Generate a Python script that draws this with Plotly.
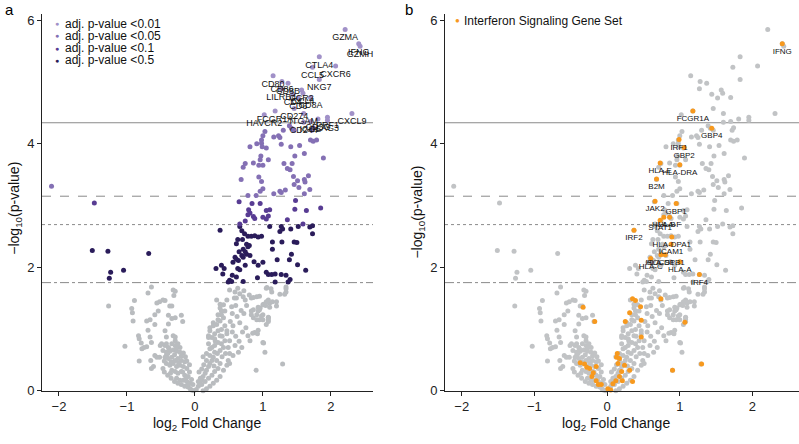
import plotly.graph_objects as go

W, H = 799, 444

# ---------------- data (log2 fold change, -log10 p-value) ----------------
ns_pts = [
    (-1.27, 1.37), (-1.03, 0.72), (-0.89, 1.46), (-0.93, 1.33), (-0.92, 1.26), (-0.91, 1.13),
    (-0.83, 0.89), (-0.82, 0.84), (-0.79, 0.77), (-0.78, 0.68), (-0.82, 0.48), (-0.71, 0.71),
    (-0.66, 0.87), (-0.64, 0.78), (-0.69, 1.58), (-0.64, 1.68), (-0.71, 1.13), (-0.66, 1.15),
    (-0.69, 0.98), (-0.59, 1.23), (-0.59, 1.07), (-0.52, 1.44), (-0.44, 1.46), (-0.29, 1.61),
    (-0.31, 1.54), (-0.54, 1.29), (-0.39, 1.22), (-0.37, 1.37), (-0.34, 1.17), (-0.29, 1.18),
    (-0.20, 1.22), (-0.18, 1.12), (-0.39, 1.08), (-0.29, 0.87), (-0.42, 0.76), (-0.51, 0.73),
    (-0.52, 0.54), (-0.42, 0.57), (-0.65, 0.49), (-0.61, 0.39), (-0.59, 0.57), (-0.75, 0.70),
    (-0.64, 0.36), (-0.56, 0.54), (-0.44, 0.97), (-0.42, 0.87), (-0.32, 0.89), (-0.29, 0.81),
    (-0.47, 1.47), (-0.56, 1.42), (-0.32, 1.63), (-0.34, 1.37),
    # left lobe
    (-0.49, 0.76), (-0.44, 0.73), (-0.39, 0.70), (-0.34, 0.76), (-0.29, 0.73), (-0.25, 0.76),
    (-0.22, 0.70), (-0.47, 0.65), (-0.42, 0.62), (-0.37, 0.64), (-0.32, 0.66), (-0.27, 0.64),
    (-0.22, 0.62), (-0.17, 0.61), (-0.44, 0.54), (-0.39, 0.52), (-0.34, 0.54), (-0.29, 0.49),
    (-0.25, 0.52), (-0.20, 0.49), (-0.15, 0.47), (-0.42, 0.44), (-0.37, 0.41), (-0.32, 0.44),
    (-0.27, 0.39), (-0.22, 0.41), (-0.17, 0.39), (-0.12, 0.36), (-0.34, 0.33), (-0.29, 0.31),
    (-0.25, 0.28), (-0.20, 0.31), (-0.15, 0.25), (-0.10, 0.23), (-0.27, 0.20), (-0.22, 0.17),
    (-0.17, 0.17), (-0.12, 0.15), (-0.07, 0.12), (-0.20, 0.10), (-0.15, 0.07), (-0.10, 0.06),
    (-0.07, 0.03), (-0.05, 0.01), (-0.02, 0.00),
    (-0.45, 0.30), (-0.40, 0.25), (-0.35, 0.20), (-0.30, 0.15), (-0.25, 0.12), (-0.40, 0.60),
    (-0.30, 0.58), (-0.20, 0.56), (-0.12, 0.48), (-0.08, 0.30), (-0.05, 0.18), (-0.45, 0.48),
    (-0.35, 0.47), (-0.24, 0.45), (-0.18, 0.30), (-0.13, 0.20), (-0.38, 0.68), (-0.27, 0.69),
    (-0.14, 0.55), (-0.08, 0.42), (-0.03, 0.10), (-0.10, 0.10), (-0.47, 0.36), (-0.36, 0.28),
    # right lobe
    (0.02, 0.02), (0.05, 0.07), (0.07, 0.12), (0.10, 0.17), (0.12, 0.23), (0.15, 0.28),
    (0.17, 0.33), (0.20, 0.39), (0.22, 0.44), (0.25, 0.49), (0.27, 0.54), (0.05, 0.15),
    (0.10, 0.10), (0.15, 0.15), (0.20, 0.20), (0.25, 0.25), (0.29, 0.31), (0.34, 0.36),
    (0.37, 0.44), (0.32, 0.49), (0.17, 0.49), (0.22, 0.57), (0.29, 0.62), (0.37, 0.65),
    (0.42, 0.70), (0.39, 0.76), (0.34, 0.78), (0.29, 0.73), (0.22, 0.68), (0.17, 0.60),
    (0.25, 0.86), (0.29, 0.92), (0.34, 0.97), (0.39, 0.99), (0.44, 1.05), (0.32, 1.07),
    (0.37, 1.13), (0.42, 1.18), (0.22, 1.02), (0.27, 1.10), (0.37, 1.34), (0.39, 1.29),
    (0.34, 1.23), (0.44, 1.29), (0.42, 1.39), (0.47, 1.47), (0.20, 0.76), (0.20, 0.89),
    (0.47, 0.92), (0.44, 0.81), (0.49, 0.70), (0.51, 0.60), (0.49, 0.49), (0.47, 0.41),
    (0.42, 0.33), (0.37, 0.23), (0.32, 0.17), (0.27, 0.12), (0.22, 0.07), (0.17, 0.03),
    (0.12, 0.00), (0.06, 0.30), (0.10, 0.35), (0.13, 0.42), (0.28, 0.40), (0.33, 0.60),
    (0.40, 0.55), (0.45, 0.60), (0.12, 0.55), (0.08, 0.20), (0.25, 0.70), (0.30, 0.80),
    (0.40, 0.88),
    # right middle
    (0.51, 1.63), (0.59, 1.60), (0.61, 1.50), (0.71, 1.52), (0.74, 1.47), (0.83, 1.50),
    (0.91, 1.52), (1.05, 1.66), (1.13, 1.60), (1.34, 1.68), (1.34, 1.60), (1.32, 1.56),
    (1.20, 1.44), (1.10, 1.42), (1.05, 1.44), (1.00, 1.39), (0.96, 1.34), (0.93, 1.29),
    (0.83, 1.29), (0.86, 1.18), (0.91, 1.15), (1.00, 1.23), (1.08, 1.18), (1.05, 1.07),
    (0.32, 1.47), (0.37, 1.40), (0.39, 1.23), (0.34, 1.15), (0.27, 1.05), (0.22, 0.97),
    (0.20, 0.86), (0.29, 0.84), (0.37, 0.89), (0.47, 0.97), (0.56, 1.05), (0.66, 1.10),
    (0.51, 0.81), (0.59, 0.73), (0.69, 0.70), (0.78, 0.89), (0.81, 0.81), (0.88, 0.94),
    (1.00, 0.78), (1.03, 0.62), (0.90, 0.33), (1.29, 0.43), (0.56, 0.57), (0.51, 0.44),
    (0.55, 0.95), (0.60, 0.88), (0.65, 0.80), (0.70, 0.95), (0.75, 1.02), (0.62, 1.20),
    (0.68, 1.30), (0.72, 1.25), (0.55, 1.25), (0.60, 1.38), (0.52, 1.12), (0.64, 0.62),
    (0.58, 1.50), (0.66, 1.57), (0.54, 1.36), (0.76, 1.38),
    (1.06, 1.67), (1.12, 1.65), (1.34, 1.65), (1.25, 1.56), (0.86, 1.51), (0.95, 1.53),
    (1.08, 1.47), (1.14, 1.44), (1.01, 1.40), (1.04, 1.38), (1.10, 1.35), (1.20, 1.37),
    (0.86, 1.31), (0.93, 1.35), (0.95, 1.31), (0.83, 1.23), (0.91, 1.23), (0.98, 1.21),
    (1.08, 1.19), (1.08, 1.15), (1.08, 1.12), (0.95, 1.15), (1.00, 1.15), (0.93, 0.98),
    (0.92, 0.92), (0.85, 0.93), (1.01, 0.77), (0.72, 1.62), (0.63, 1.66), (0.80, 1.55),
]

# adj. p-value < 0.5 (navy)
p50_pts = [
    (-1.51, 2.27), (-1.28, 2.26), (-1.24, 1.92), (-1.26, 1.82), (-1.05, 1.95), (-0.68, 2.22),
    (0.37, 2.60), (0.66, 2.66), (0.69, 2.59), (0.73, 2.54), (0.78, 2.50), (0.83, 2.50),
    (0.88, 2.51), (0.93, 2.49), (0.98, 2.50), (1.10, 2.66), (1.27, 2.66), (1.29, 2.62),
    (1.25, 2.58), (1.41, 2.62), (1.52, 2.66), (1.69, 2.65), (1.73, 2.54), (1.73, 2.67),
    (0.63, 2.45), (0.70, 2.45), (0.61, 2.38), (0.76, 2.37), (0.78, 2.33), (0.80, 2.35),
    (0.71, 2.29), (0.74, 2.25), (0.76, 2.21), (0.65, 2.25), (0.59, 2.16), (0.61, 2.13),
    (0.64, 2.11), (0.69, 2.19), (0.71, 2.16), (0.81, 2.19), (0.87, 2.09), (1.00, 2.08),
    (0.93, 2.03), (1.14, 2.41), (1.28, 2.41), (1.46, 2.41), (1.50, 2.40), (1.14, 2.29),
    (1.42, 2.21), (1.21, 2.12), (1.39, 2.12), (0.56, 2.08), (0.31, 1.98), (0.39, 2.03),
    (0.43, 1.98), (0.41, 1.89), (0.63, 1.98), (0.66, 1.96), (0.74, 2.03), (1.05, 1.92),
    (1.08, 1.88), (1.13, 1.88), (1.18, 1.89), (1.27, 1.88), (1.34, 1.87), (1.51, 2.04),
    (1.63, 1.95), (0.55, 1.87), (0.61, 1.84), (0.51, 1.79), (0.49, 1.76), (0.54, 1.77),
    (0.71, 1.77), (0.92, 1.83), (1.18, 1.76), (1.40, 1.80), (1.37, 1.76),
]

# adj. p-value < 0.1
p10_pts = [
    (-1.48, 3.04), (0.65, 3.06), (0.84, 3.03), (0.96, 3.03), (1.48, 3.08), (1.85, 2.96),
    (1.47, 2.94), (1.64, 2.92), (0.79, 2.93), (0.81, 2.88), (1.05, 2.92), (1.10, 2.93),
    (0.78, 2.85), (0.86, 2.82), (0.88, 2.79), (1.00, 2.81), (1.08, 2.83), (1.05, 2.78),
    (0.74, 2.75), (0.66, 2.70), (1.36, 2.77), (1.59, 2.70),
]

# adj. p-value < 0.05
p05_pts = [
    (-2.11, 3.31), (1.03, 4.20), (1.00, 4.13), (1.16, 4.11), (1.23, 4.13), (1.25, 4.10),
    (1.30, 4.22), (1.46, 4.22), (0.98, 4.06), (0.91, 4.00), (0.98, 4.01), (0.81, 3.95),
    (0.99, 3.95), (1.05, 3.93), (1.27, 3.99), (1.41, 3.95), (1.54, 3.97), (1.70, 4.06),
    (1.74, 4.04), (1.79, 4.06), (1.61, 3.84), (1.47, 3.80), (1.89, 3.77), (0.97, 3.80),
    (0.96, 3.74), (1.08, 3.74), (0.86, 3.69), (0.74, 3.68), (0.71, 3.62), (0.94, 3.65),
    (1.00, 3.65), (1.31, 3.68), (1.43, 3.68), (1.36, 3.60), (1.40, 3.58), (0.68, 3.42),
    (0.94, 3.46), (0.98, 3.39), (1.45, 3.47), (1.51, 3.40), (1.46, 3.34), (1.61, 3.42),
    (1.62, 3.38), (1.67, 3.48), (1.53, 3.29), (1.69, 3.26), (1.00, 3.27), (0.96, 3.23),
    (0.90, 3.16), (0.78, 3.16), (1.16, 3.19), (1.25, 3.23), (1.27, 3.21), (1.33, 3.25),
    (1.61, 3.19), (1.39, 4.29), (1.42, 4.25), (1.72, 4.22), (1.74, 4.26),
]

# adj. p-value < 0.01 (labelled)
top_genes = ["GZMA", "IFNG", "GZMH", "CTLA4", "CCL5", "CXCR6", "NKG7", "CD80", "CD86",
             "CD8B", "LILRB4", "CCR2", "CCL4", "CD4", "CD6", "CD8A", "CD274", "FCGR1A",
             "HAVCR2", "ITGAM", "CD3G", "PRF1", "LAG3", "CXCL9", "ICOS", "CD244"]
top_x = [2.21, 2.41, 2.43, 1.83, 1.73, 2.07, 1.83, 1.15, 1.28,
         1.37, 1.27, 1.57, 1.59, 1.44, 1.52, 1.70, 1.46, 1.18,
         1.02, 1.60, 1.81, 1.95, 1.95, 2.31, 1.70, 1.60]
top_y = [5.85, 5.62, 5.58, 5.41, 5.24, 5.26, 5.04, 5.10, 5.01,
         4.98, 4.89, 4.87, 4.82, 4.80, 4.74, 4.75, 4.57, 4.53,
         4.47, 4.49, 4.40, 4.43, 4.38, 4.49, 4.36, 4.35]

# Interferon signaling gene set (panel b)
ifn_genes = ["IFNG", "FCGR1A", "GBP4", "IRF1", "GBP2", "HLA-E", "HLA-DRA", "B2M", "JAK2",
             "GBP1", "HLA-B", "HLA-F", "STAT1", "IRF2", "HLA-DPA1", "ICAM1", "HLA-DPB1",
             "SOCS1", "HLA-C", "HLA-A", "IRF4"]
ifn_x = [2.41, 1.18, 1.44, 0.99, 1.06, 0.73, 1.00, 0.68, 0.66,
         0.95, 0.78, 0.86, 0.73, 0.37, 0.89, 0.88, 0.80,
         0.74, 0.60, 1.00, 1.27]
ifn_y = [5.62, 4.53, 4.25, 4.07, 3.94, 3.69, 3.66, 3.43, 3.07,
         3.03, 2.81, 2.81, 2.76, 2.60, 2.49, 2.37, 2.20,
         2.20, 2.14, 2.09, 1.88]
ifn_other_pts = [
    (0.35, 1.49), (0.39, 1.46), (0.46, 1.36), (0.31, 1.26), (0.25, 1.12), (0.47, 1.14),
    (-0.33, 1.35), (-0.17, 1.12), (0.74, 1.49), (1.07, 1.11), (0.47, 0.87), (1.30, 0.43),
    (0.90, 0.33), (0.14, 0.60), (0.13, 0.54), (0.17, 0.52), (0.15, 0.44), (0.24, 0.41),
    (0.20, 0.31), (0.17, 0.23), (0.21, 0.16), (0.12, 0.16), (0.08, 0.11), (0.01, 0.03),
    (0.05, 0.01), (0.35, 0.15), (0.31, 0.33), (-0.37, 0.45), (-0.31, 0.43), (-0.28, 0.38),
    (-0.24, 0.36), (-0.15, 0.39), (-0.21, 0.23), (-0.15, 0.16), (-0.12, 0.10), (-0.08, 0.10),
    (-0.19, 0.29),
]

thresholds = [4.34, 3.15, 2.69, 1.75]
legend_a = ["adj. p-value &lt;0.01", "adj. p-value &lt;0.05", "adj. p-value &lt;0.1", "adj. p-value &lt;0.5"]
legend_b = "Interferon Signaling Gene Set"

# ---------------- styles ----------------
FONT = "Arial, Liberation Sans, sans-serif"
C_GRAY = "#b9bcbf"
C01, C05, C10, C50 = "#a191c8", "#8470b4", "#583c93", "#2a1c5a"
C_ORANGE = "#f7991e"
DASHES = ["solid", "dash", "dot", "dashdot"]
MS = 5


def xs(p):
    return [a for a, _ in p]


def ys(p):
    return [b for _, b in p]


fig = go.Figure()

def mk(x, y, color, xa, ya, text=None, tsize=8.5):
    return go.Scatter(
        x=x, y=y, xaxis=xa, yaxis=ya,
        mode="markers+text" if text else "markers",
        text=text, textposition="bottom center",
        textfont=dict(size=tsize, color="#111", family=FONT),
        marker=dict(size=MS, color=color, line=dict(width=0)),
        hoverinfo="skip", showlegend=False, cliponaxis=False,
    )

# panel a
fig.add_trace(mk(xs(ns_pts), ys(ns_pts), C_GRAY, "x", "y"))
fig.add_trace(mk(xs(p50_pts), ys(p50_pts), C50, "x", "y"))
fig.add_trace(mk(xs(p10_pts), ys(p10_pts), C10, "x", "y"))
fig.add_trace(mk(xs(p05_pts), ys(p05_pts), C05, "x", "y"))
fig.add_trace(mk(top_x, top_y, C01, "x", "y", text=top_genes, tsize=9))

# panel b
all_x = xs(ns_pts) + xs(p50_pts) + xs(p10_pts) + xs(p05_pts) + top_x
all_y = ys(ns_pts) + ys(p50_pts) + ys(p10_pts) + ys(p05_pts) + top_y
fig.add_trace(mk(all_x, all_y, "#c1c3c5", "x2", "y2"))
fig.add_trace(mk(xs(ifn_other_pts), ys(ifn_other_pts), C_ORANGE, "x2", "y2"))
fig.add_trace(mk(ifn_x, ifn_y, C_ORANGE, "x2", "y2", text=ifn_genes, tsize=8))

# threshold lines
shapes = []
for t, d in zip(thresholds, DASHES):
    for xr, yr in (("x domain", "y"), ("x2 domain", "y2")):
        shapes.append(dict(type="line", xref=xr, yref=yr, x0=0, x1=1, y0=t, y1=t,
                           line=dict(color="#8a8a8a", width=1, dash=d), layer="below"))

y_dom = [(H - 397.7) / H, (H - 13.4) / H]
axis_common = dict(showline=True, linecolor="#222", linewidth=1, ticks="outside",
                   ticklen=4, tickcolor="#222", showgrid=False, zeroline=False,
                   tickfont=dict(size=13, color="#222", family=FONT))

annotations = []
def ann(text, px, py, size=12, color="#111", xanchor="left", angle=0):
    annotations.append(dict(text=text, x=px / W, y=1 - py / H, xref="paper", yref="paper",
                            xanchor=xanchor, yanchor="middle", showarrow=False,
                            textangle=angle, font=dict(size=size, color=color, family=FONT)))

ann("a", 3, 9, size=15, color="#000")
ann("b", 403, 9, size=15, color="#000")
ann("−log<sub>10</sub>(p-value)", 15, 212, size=14, xanchor="center", angle=-90)
ann("−log<sub>10</sub>(p-value)", 418, 216, size=14, xanchor="center", angle=-90)
ann("log<sub>2</sub> Fold Change", 207, 432, size=14, xanchor="center")
ann("log<sub>2</sub> Fold Change", 616, 432, size=14, xanchor="center")

for i, (lab, col) in enumerate(zip(legend_a, [C01, C05, C10, C50])):
    py = 23 + i * 12.5
    ann("●", 52.5, py, size=7, color=col)
    ann(lab, 63, py, size=12, color="#111")
ann("●", 452.5, 20, size=8, color=C_ORANGE)
ann(legend_b, 462, 20, size=12, color="#111")

fig.update_layout(
    width=W, height=H, margin=dict(l=0, r=0, t=0, b=0),
    paper_bgcolor="white", plot_bgcolor="white", showlegend=False,
    font=dict(family=FONT, color="#111"),
    xaxis=dict(domain=[42 / W, 373 / W], range=[-2.25, 2.62], anchor="y",
               tickvals=[-2, -1, 0, 1, 2], **axis_common),
    yaxis=dict(domain=y_dom, range=[0, 6.1], anchor="x", tickvals=[0, 2, 4, 6], **axis_common),
    xaxis2=dict(domain=[445 / W, 1.0], range=[-2.23, 2.64], anchor="y2",
                tickvals=[-2, -1, 0, 1, 2], **axis_common),
    yaxis2=dict(domain=y_dom, range=[0, 6.1], anchor="x2", tickvals=[0, 2, 4, 6], **axis_common),
    shapes=shapes, annotations=annotations,
)

fig.write_html("out.html")
